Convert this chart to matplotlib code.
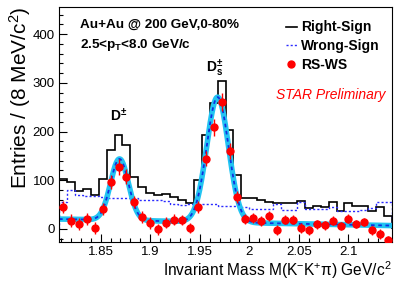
import numpy as np
import matplotlib
matplotlib.use('Agg')
import matplotlib.pyplot as plt
from matplotlib.lines import Line2D

plt.rcParams['font.family'] = ['Liberation Sans', 'DejaVu Sans']
plt.rcParams['mathtext.fontset'] = 'custom'
plt.rcParams['mathtext.rm'] = 'Liberation Sans'
plt.rcParams['mathtext.bf'] = 'Liberation Sans:bold'
plt.rcParams['mathtext.it'] = 'Liberation Sans:italic'

# binning: 8 MeV bins
m_lo, m_hi, nbins = 1.808, 2.144, 42

# right-sign counts
rs = [102, 96, 77, 81, 70, 103, 162, 193, 172, 107,
      86, 73, 70, 71, 66, 60, 54, 101, 192, 258,
      304, 203, 111, 64, 63, 60, 56, 53, 53, 54,
      57, 42, 46, 44, 56, 37, 53, 46, 46, 37,
      44, 27]
# wrong-sign counts
ws = [56, 79, 70, 68, 68, 65, 64, 64, 64, 63,
      60, 60, 60, 57, 52, 48, 52, 48, 52, 52,
      46, 46, 47, 44, 41, 41, 40, 52, 39, 39,
      56, 41, 41, 41, 44, 37, 37, 37, 38, 42,
      55, 55]
# RS-WS points
diff = [45, 17, 10, 20, 2, 41, 96, 127, 107, 55,
        25, 12, -1, 12, 19, 19, 2, 45, 144, 209,
        260, 160, 65, 20, 22, 16, 26, -3, 19, 19,
        2, -3, 9, 7, 17, 6, 21, 10, 14, -3,
        -10, -23]

# fit: linear background + two gaussians
bg_a, bg_b = 20.0, -40.0          # bg = a + b*(m - 1.81)
dp_amp, dp_mu, dp_sig = 126.0, 1.869, 0.009
ds_amp, ds_mu, ds_sig = 257.0, 1.968, 0.011

edges = np.linspace(m_lo, m_hi, nbins + 1)
centers = 0.5 * (edges[:-1] + edges[1:])
err = np.sqrt(np.array(rs) + np.array(ws))

mm = np.linspace(m_lo, m_hi, 600)
fit = (bg_a + bg_b * (mm - 1.81)
       + dp_amp * np.exp(-0.5 * ((mm - dp_mu) / dp_sig) ** 2)
       + ds_amp * np.exp(-0.5 * ((mm - ds_mu) / ds_sig) ** 2))

fig = plt.figure(figsize=(3.99, 2.86), dpi=100)
ax = fig.add_axes([0.148, 0.154, 0.8346, 0.8217])

ax.stairs(rs, edges, color='black', lw=1.2)
ax.stairs(ws, edges, color='#2b2bff', lw=1.0, ls=(0, (1.5, 1.5)))
ax.plot(mm, fit, color='#22c4f2', lw=4.0, solid_capstyle='butt')
ax.plot(mm, fit, color='#1030e0', lw=1.3, ls=(0, (2, 2)))
ax.errorbar(centers, diff, yerr=err, xerr=0.0025, fmt='o', color='red',
            ms=5, elinewidth=1.0, capsize=0, zorder=5)

ax.set_xlim(m_lo, m_hi)
ax.set_ylim(-27, 456)
ax.set_xticks([1.85, 1.9, 1.95, 2.0, 2.05, 2.1])
ax.set_xticklabels(['1.85', '1.9', '1.95', '2', '2.05', '2.1'])
ax.set_yticks([0, 100, 200, 300, 400])
ax.set_xticks(np.arange(1.81, 2.141, 0.01), minor=True)
ax.set_yticks(np.arange(-20, 451, 20), minor=True)
ax.tick_params(which='major', direction='in', length=6, width=0.8,
               labelsize=9.5, pad=3)
ax.tick_params(which='minor', direction='in', length=3, width=0.8)

ax.set_ylabel('Entries / (8 MeV/c$^{2}$)', fontsize=15, loc='top')
ax.yaxis.set_label_coords(-0.117, 1.0)
ax.yaxis.label.set_va('center')
ax.set_xlabel('Invariant Mass M(K$^{-}$K$^{+}$π) GeV/c$^{2}$', fontsize=11.2,
              loc='right')
ax.xaxis.set_label_coords(1.0, -0.075)

ax.text(0.063, 0.925, 'Au+Au @ 200 GeV,0-80%', transform=ax.transAxes,
        fontsize=9.7, fontweight='bold', va='center')
ax.text(0.063, 0.84, r'2.5<p$_{\mathbf{T}}$<8.0 GeV/c', transform=ax.transAxes,
        fontsize=9.7, fontweight='bold', va='center')
ax.text(1.868, 232, r'$\mathbf{D^{\pm}}$', fontsize=10, ha='center',
        va='center')
ax.text(1.965, 330, r'$\mathbf{D_{s}^{\pm}}$', fontsize=10, ha='center',
        va='center')
ax.text(0.979, 0.627, 'STAR Preliminary', transform=ax.transAxes,
        color='red', style='italic', fontsize=10, ha='right', va='center')

handles = [Line2D([], [], color='black', lw=1.2),
           Line2D([], [], color='#2b2bff', lw=1.0, ls=(0, (1.5, 1.5))),
           Line2D([], [], color='red', marker='o', ls='none', ms=5)]
ax.legend(handles, ['Right-Sign', 'Wrong-Sign', 'RS-WS'], loc='upper left',
          bbox_to_anchor=(0.66, 0.972), frameon=False, handlelength=0.8,
          handletextpad=0.3, labelspacing=0.35, borderpad=0,
          prop={'weight': 'bold', 'size': 10})

fig.savefig('out.png', dpi=100)
